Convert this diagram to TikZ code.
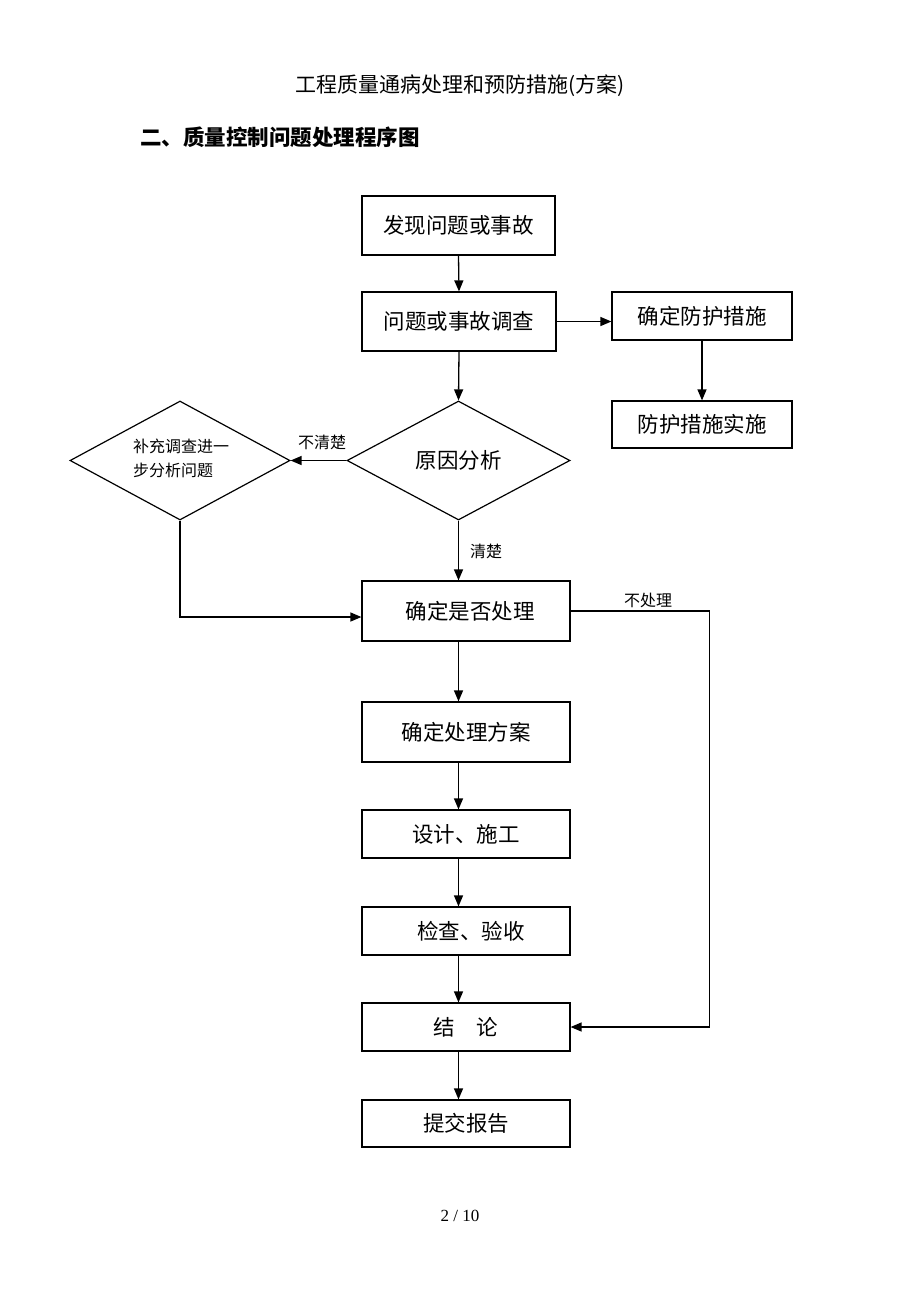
\documentclass[tikz,border=0pt]{standalone}
\usepackage{fontspec}
\setmainfont{Liberation Serif}
\newfontfamily\cjk{Noto Sans CJK SC}
\usetikzlibrary{shapes.geometric,arrows.meta}
\tikzset{
  box/.style={draw, line width=1.2pt, inner sep=0pt, font=\cjk\fontsize{21.5}{25}\selectfont},
  dia/.style={draw, diamond, line width=1.2pt, inner sep=0pt, font=\cjk\fontsize{21.5}{25}\selectfont},
  lbl/.style={font=\cjk\fontsize{16}{19}\selectfont, inner sep=0pt},
  arr/.style={line width=1.3pt, -{Triangle[length=11pt,width=9pt]}},
  ln/.style={line width=1.3pt}
}
\begin{document}
\begin{tikzpicture}[x=1pt,y=-1pt]
\useasboundingbox[fill=white] (0,0) rectangle (920,1302);
\node[font=\cjk\fontsize{21}{25}\selectfont, inner sep=0pt] (title) at (460,86) {工程质量通病处理和预防措施(方案)};
\node[font=\cjk\bfseries\fontsize{21.5}{25}\selectfont, inner sep=0pt, anchor=west] (head) at (140,137) {二、质量控制问题处理程序图};

\node[box, minimum width=193, minimum height=59] (b1) at (458.5,225.5) {发现问题或事故};
\node[box, minimum width=194, minimum height=59] (b2) at (459,321.5) {问题或事故调查};
\node[box, minimum width=180, minimum height=48] (p1) at (702,316) {确定防护措施};
\node[box, minimum width=180, minimum height=47] (p2) at (702,424.5) {防护措施实施};
\node[dia, minimum width=223, minimum height=119] (d1) at (458.5,460.5) {原因分析};
\node[dia, minimum width=220, minimum height=119] (d2) at (180,460.5) {};
\node[lbl, align=left, font=\cjk\fontsize{16}{24}\selectfont] (d2t) at (181,458) {补充调查进一\\步分析问题};
\node[box, minimum width=208, minimum height=60] (dec) at (466,611) {\hspace{8pt}确定是否处理};
\node[box, minimum width=208, minimum height=60] (plan) at (466,732) {确定处理方案};
\node[box, minimum width=208, minimum height=48] (des) at (466,834) {设计、施工};
\node[box, minimum width=208, minimum height=48] (chk) at (466,931) {\hspace{10pt}检查、验收};
\node[box, minimum width=208, minimum height=48] (con) at (466,1027) {结\hspace{22pt}论};
\node[box, minimum width=208, minimum height=47] (rep) at (466,1123.5) {提交报告};

\node[lbl] (l1) at (322,442) {不清楚};
\node[lbl] (l2) at (486,551) {清楚};
\node[lbl] (l3) at (648,600) {不处理};

\node[font=\fontsize{17}{20}\selectfont, inner sep=0pt] (pg) at (460,1216) {2 / 10};

\draw[arr] (b1.south) -- (b2.north);
\draw[arr] (b2.east) -- (p1.west |- b2.east);
\draw[arr] (p1.south) -- (p2.north);
\draw[arr] (b2.south) -- (d1.north);
\draw[arr] (d1.west) -- (d2.east);
\draw[arr] (d1.south) -- (d1.south |- dec.north);
\draw[arr] (d2.south) |- ([yshift=-6pt]dec.west);
\draw[arr] (dec.south -| d1.south) -- (plan.north -| d1.south);
\draw[arr] (plan.south -| d1.south) -- (des.north -| d1.south);
\draw[arr] (des.south -| d1.south) -- (chk.north -| d1.south);
\draw[arr] (chk.south -| d1.south) -- (con.north -| d1.south);
\draw[arr] (con.south -| d1.south) -- (rep.north -| d1.south);
\draw[arr] (dec.east) -- ++(139,0) |- (con.east);
\end{tikzpicture}
\end{document}
